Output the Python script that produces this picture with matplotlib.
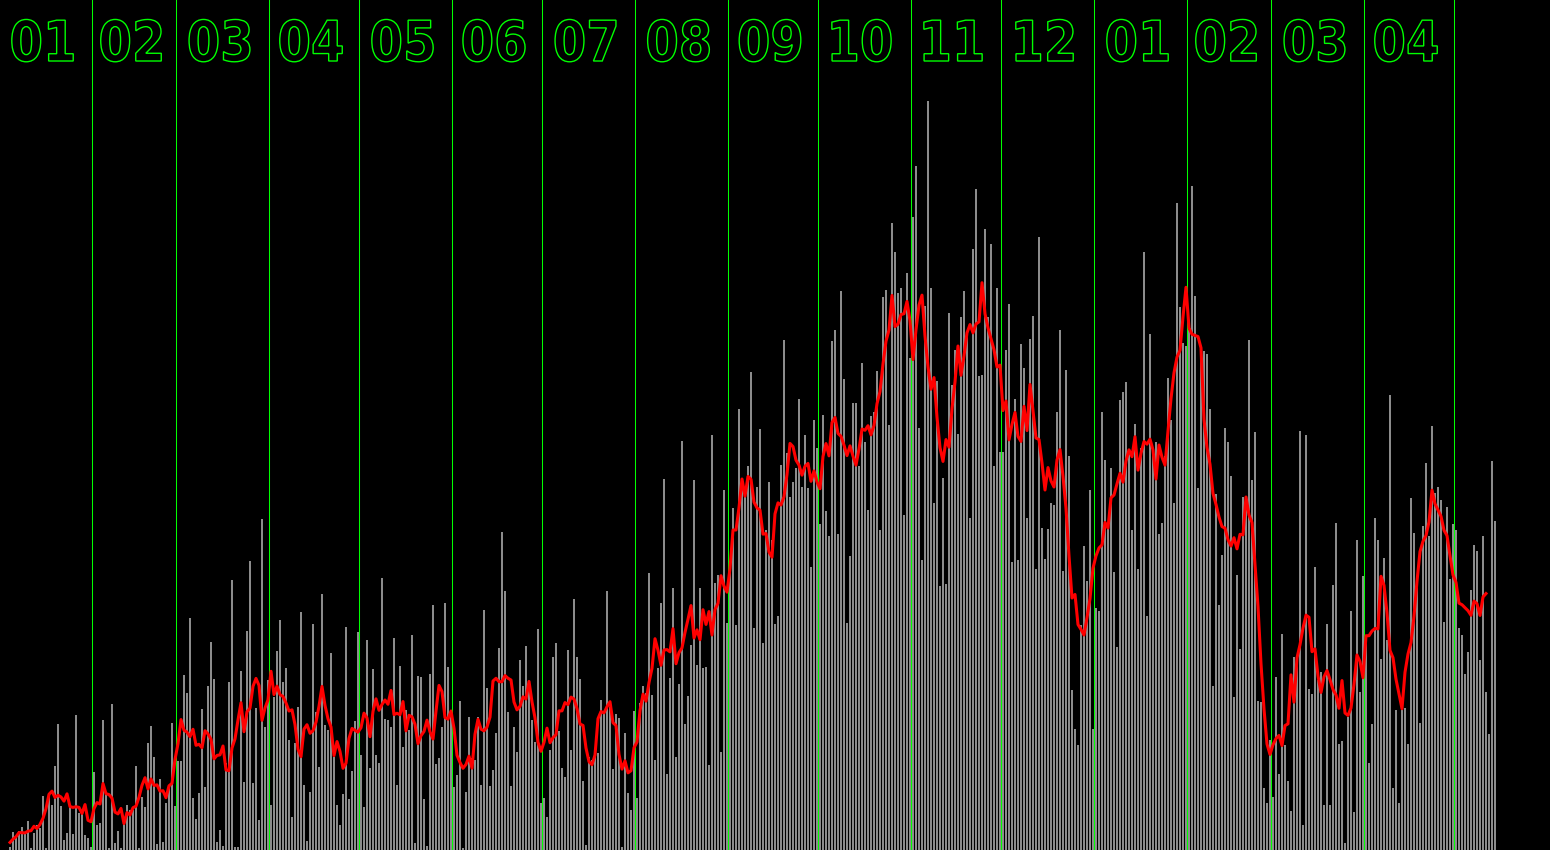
import numpy as np
import pandas as pd
import matplotlib
matplotlib.use("Agg")
import matplotlib.pyplot as plt
import matplotlib.transforms as mtransforms
from matplotlib.textpath import TextPath
from matplotlib.font_manager import FontProperties
from matplotlib.patches import PathPatch

# daily values, one list per month (Jan .. Dec, then Jan .. May of the next year)
m01 = [0, 0, 0, 3, 18, 13, 19, 23, 17, 29, 2, 17, 25, 22, 54, 2, 57, 45, 84, 126, 44, 10, 17, 45, 16, 135,
       37, 38, 15, 12, 3]
m02 = [78, 25, 27, 130, 57, 2, 146, 7, 19, 2, 32, 45, 40, 40, 84, 2, 53, 43, 107, 124, 93, 6, 71, 8, 47, 63,
       127, 44]
m03 = [89, 89, 175, 157, 232, 52, 31, 57, 141, 63, 164, 208, 171, 8, 20, 4, 87, 168, 270, 3, 3, 179, 68, 219,
       289, 67, 142, 30, 331, 123, 170]
m04 = [45, 153, 199, 230, 168, 182, 110, 33, 107, 143, 238, 65, 9, 58, 226, 138, 83, 256, 125, 120, 197, 93,
       45, 25, 56, 223, 51, 79, 129, 218]
m05 = [95, 43, 210, 82, 181, 95, 87, 272, 131, 130, 123, 212, 65, 184, 103, 140, 120, 215, 7, 174, 173, 51, 4,
       176, 245, 86, 92, 123, 247, 183, 133]
m06 = [63, 75, 149, 2, 58, 133, 92, 90, 133, 65, 240, 162, 64, 80, 117, 202, 318, 259, 138, 64, 123, 98, 190,
       164, 204, 163, 130, 108, 221, 47]
m07 = [52, 33, 100, 193, 207, 119, 82, 73, 200, 100, 251, 193, 171, 69, 5, 93, 90, 93, 97, 150, 137, 259, 143,
       81, 136, 132, 3, 117, 57, 40, 139]
m08 = [52, 147, 164, 157, 277, 155, 90, 182, 247, 371, 76, 172, 262, 93, 166, 409, 126, 154, 205, 370, 185,
       262, 182, 183, 85, 415, 267, 275, 98, 360, 227]
m09 = [278, 342, 225, 441, 367, 360, 384, 478, 222, 363, 421, 207, 320, 368, 310, 226, 234, 385, 510, 397, 353,
       368, 382, 451, 363, 415, 362, 283, 430, 402]
m10 = [326, 435, 339, 314, 509, 520, 316, 559, 471, 227, 294, 447, 447, 384, 487, 408, 340, 434, 438, 479, 320,
       553, 560, 425, 627, 598, 557, 562, 335, 577, 492]
m11 = [633, 684, 422, 290, 544, 749, 562, 347, 469, 264, 372, 266, 537, 465, 500, 416, 533, 559, 518, 332, 601,
       661, 474, 475, 621, 533, 606, 384, 562, 398]
m12 = [398, 500, 546, 288, 451, 290, 506, 482, 332, 511, 534, 281, 613, 322, 291, 321, 347, 345, 438, 520, 279,
       480, 394, 160, 121, 105, 225, 304, 269, 360, 121]
n01 = [242, 239, 438, 390, 324, 382, 278, 203, 450, 458, 468, 398, 320, 426, 281, 402, 598, 234, 516, 402, 408,
       316, 327, 394, 472, 430, 347, 647, 543, 507, 504]
n02 = [520, 664, 554, 362, 499, 499, 496, 441, 164, 356, 245, 295, 422, 408, 374, 153, 275, 201, 353, 344, 510,
       370, 418, 149, 148, 62, 47, 110]
n03 = [53, 173, 76, 216, 105, 69, 39, 193, 185, 419, 25, 415, 161, 156, 283, 170, 178, 45, 226, 45, 265, 327,
       106, 109, 7, 133, 239, 38, 310, 158, 274]
n04 = [213, 87, 126, 332, 310, 191, 292, 210, 455, 62, 140, 47, 140, 142, 106, 352, 317, 268, 127, 324, 387,
       314, 424, 357, 363, 350, 228, 343, 271, 326]
n05 = [320, 222, 215, 176, 198, 260, 305, 299, 190, 314, 158, 116, 389, 329]

months = [m01, m02, m03, m04, m05, m06, m07, m08, m09, m10, m11, m12, n01, n02, n03, n04, n05]
month_labels = ["01", "02", "03", "04", "05", "06", "07", "08", "09", "10", "11", "12",
                "01", "02", "03", "04", ""]
month_days = [31, 28, 31, 30, 31, 30, 31, 31, 30, 31, 30, 31, 31, 28, 31, 30, 31]

values = np.concatenate([np.array(m, dtype=float) for m in months])
days = np.arange(len(values))
avg = pd.Series(values).rolling(7, center=True).mean()
starts = np.concatenate([[0], np.cumsum(month_days)[:-1]])

W, H = 1550, 850
fig = plt.figure(figsize=(W / 100, H / 100), dpi=100, facecolor="black")
ax = fig.add_axes([0, 0, 1, 1])
ax.set_facecolor("black")
# one day = 3 pixels
ax.set_xlim(0, W / 3)
ax.set_ylim(0, H)
ax.axis("off")

# month separators, in the gap column before the 1st of each month
for s in starts[1:]:
    ax.axvline(s - 1 / 3, color="#00ff00", lw=0.75, zorder=1)

ax.bar(days, values, width=2 / 3, align="edge", color="#8c8c8c", linewidth=0, zorder=2)
ax.plot(days + 1 / 3, avg, color="#ff0000", lw=2.2, zorder=3)

# hollow month numbers over the middle of each month
fp = FontProperties(family="DejaVu Sans", weight="bold")
for s, n, lab in zip(starts, month_days, month_labels):
    if not lab:
        continue
    tp = TextPath((0, 0), lab, size=56, prop=fp)
    ext = tp.get_extents()
    mid = (3 * (s + n / 2) - 1 - 3) / 3
    tr = (mtransforms.Affine2D()
          .translate(-(ext.x0 + ext.x1) / 2, 0)
          .scale(0.86 / 3, 1)
          .translate(mid, H - 61))
    ax.add_patch(PathPatch(tr.transform_path(tp), facecolor="black", edgecolor="#00ff00",
                           lw=1.0, zorder=4))

fig.savefig("out.png", dpi=100, facecolor="black")
